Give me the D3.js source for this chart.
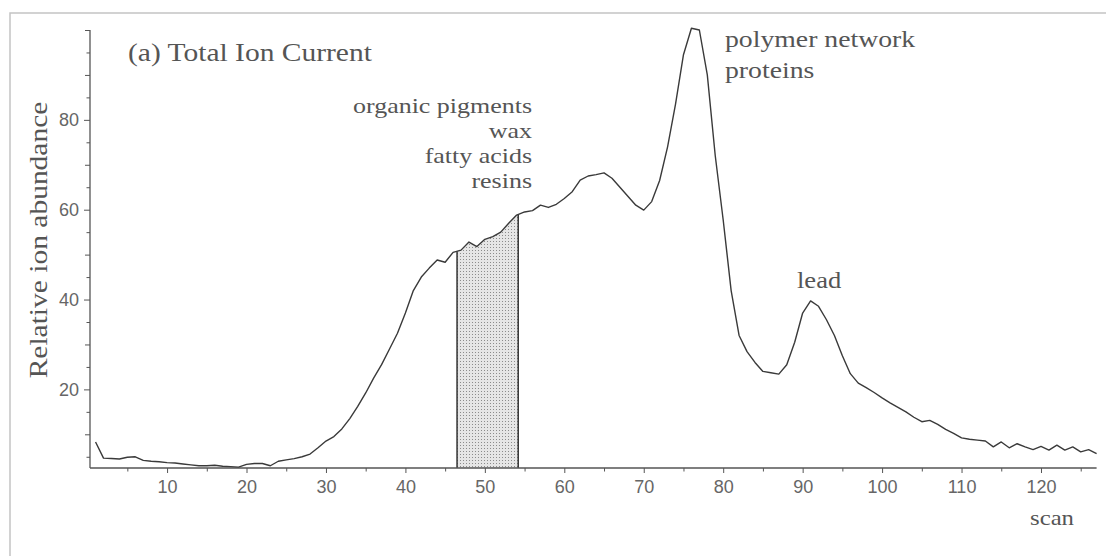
<!DOCTYPE html>
<meta charset="utf-8">
<script src="https://cdnjs.cloudflare.com/ajax/libs/d3/7.8.5/d3.min.js"></script>
<style>
 body { margin: 0; background: #fff; }
 .serif { font-family: "Liberation Serif", "Times New Roman", serif; fill: #555; }
 .tick text { font-family: "Liberation Sans", Arial, sans-serif; font-size: 18px; fill: #666; }
</style>
<div id="chart"></div>
<script>
 // total ion current, one value per scan starting at scan 1
 var firstScan = 1;
 var abundance = [
     8.3, 4.7, 4.6, 4.5, 4.9, 5.0, 4.2, 4.0, 3.9, 3.7,
     3.6, 3.4, 3.2, 3.0, 3.0, 3.1, 2.9, 2.8, 2.7, 3.3,
     3.5, 3.5, 3.0, 4.0, 4.3, 4.6, 5.0, 5.6, 7.0, 8.5,
     9.5, 11.2, 13.5, 16.2, 19.2, 22.5, 25.5, 29, 32.5, 37,
     42, 45, 47, 48.8, 48.3, 50.5, 51, 52.8, 51.8, 53.4,
     54, 55, 57, 58.8, 59.5, 59.8, 61, 60.5, 61.2, 62.5,
     64, 66.6, 67.5, 67.8, 68.2, 67, 65, 63, 61, 59.9,
     61.8, 66.5, 74, 83.5, 94.5, 100.4, 100, 90, 72, 57.7,
     42, 32, 28.4, 26, 24, 23.7, 23.4, 25.5, 30.5, 37,
     39.7, 38.5, 35.5, 32, 27.5, 23.5, 21.4, 20.4, 19.3, 18.1,
     17, 16, 15, 13.8, 12.8, 13.1, 12.2, 11.1, 10.2, 9.2,
     8.9, 8.7, 8.5, 7.2, 8.3, 7.0, 7.9, 7.2, 6.6, 7.3,
     6.5, 7.6, 6.5, 7.2, 6.1, 6.6, 5.7
 ];
 var shadedRange = [46.5, 54.2];
 var xTickLabels = [10, 20, 30, 40, 50, 60, 70, 80, 90, 100, 110, 120];
 var yTickLabels = [20, 40, 60, 80];
 var title = "(a) Total Ion Current";
 var leftNotes = ["organic pigments", "wax", "fatty acids", "resins"];
 var peakNotes = ["polymer network", "proteins"];

 var width = 1106, height = 556;
 var stretch = 1.18;   // the serif face of the original is wider than Times

 var svg = d3.select("#chart").append("svg")
             .attr("width", width)
             .attr("height", height);

 var defs = svg.append("defs");
 var pat = defs.append("pattern")
               .attr("id", "dots")
               .attr("width", 3).attr("height", 3)
               .attr("patternUnits", "userSpaceOnUse");
 pat.append("rect").attr("width", 3).attr("height", 3).attr("fill", "#e6e6e6");
 pat.append("rect").attr("x", 1).attr("y", 1).attr("width", 1).attr("height", 1).attr("fill", "#8c8c8c");

 // frame lines top and left
 svg.append("path")
    .attr("d", "M10,556V13H1106")
    .attr("fill", "none")
    .attr("stroke", "#c4c4c4")
    .attr("stroke-width", 1.5);

 var x = d3.scaleLinear().domain([0.3, 127]).range([90, 1096.6]);
 var y = d3.scaleLinear().domain([2.5, 100]).range([468, 30]);

 var data = abundance.map((v, i) => ({scan: firstScan + i, value: v}));

 function valueAt(s) {
     var i = Math.floor(s) - firstScan;
     var t = s - Math.floor(s);
     return abundance[i] + (abundance[i + 1] - abundance[i]) * t;
 }

 // shaded window
 defs.append("clipPath").attr("id", "win")
     .append("rect")
     .attr("x", x(shadedRange[0]))
     .attr("y", 0)
     .attr("width", x(shadedRange[1]) - x(shadedRange[0]))
     .attr("height", height);

 var area = d3.area()
              .x(d => x(d.scan))
              .y0(y(2.5))
              .y1(d => y(d.value));

 svg.append("path")
    .datum(data)
    .attr("d", area)
    .attr("fill", "url(#dots)")
    .attr("clip-path", "url(#win)");

 shadedRange.forEach(function(s) {
     svg.append("line")
        .attr("x1", x(s)).attr("x2", x(s))
        .attr("y1", y(2.5)).attr("y2", y(valueAt(s)))
        .attr("stroke", "#333")
        .attr("stroke-width", 1.5);
 });

 // axes
 var xAxis = svg.append("g")
                .attr("transform", `translate(0,${y(2.5)})`)
                .call(d3.axisBottom(x).tickValues(d3.range(5, 127, 5)).tickSize(4).tickPadding(8)
                        .tickFormat(d => xTickLabels.includes(d) ? d : ""));
 xAxis.select(".domain").attr("stroke", "#555").attr("stroke-width", 1.3).attr("d", `M90,0H${x(127)}`);
 xAxis.selectAll(".tick line").attr("stroke", "#555")
      .attr("y2", d => d % 10 === 0 ? 5 : 3.5);

 var yAxis = svg.append("g")
                .attr("transform", `translate(${x(0.3)},0)`)
                .call(d3.axisLeft(y).tickValues(d3.range(5, 101, 5)).tickSize(4).tickPadding(7)
                        .tickFormat(d => yTickLabels.includes(d) ? d : ""));
 yAxis.select(".domain").attr("stroke", "#555").attr("stroke-width", 1.3).attr("d", `M0,${y(2.5)}V${y(100)}`);
 yAxis.selectAll(".tick line").attr("stroke", "#555")
      .attr("x2", d => yTickLabels.includes(d) ? -6 : d % 10 === 0 ? -5 : -3.5);

 // the curve
 var line = d3.line().x(d => x(d.scan)).y(d => y(d.value));
 svg.append("path")
    .datum(data)
    .attr("d", line)
    .attr("fill", "none")
    .attr("stroke", "#3a3a3a")
    .attr("stroke-width", 1.4)
    .attr("stroke-linejoin", "round");

 function note(txt, px, py, size, anchor, rot) {
     svg.append("text")
        .attr("class", "serif")
        .attr("transform", `translate(${px},${py}) rotate(${rot || 0}) scale(${stretch},1)`)
        .attr("font-size", size)
        .attr("text-anchor", anchor || "start")
        .text(txt);
 }

 note(title, 128, 61, 25);
 leftNotes.forEach((t, i) => note(t, 532, 113 + i * 25, 22, "end"));
 peakNotes.forEach((t, i) => note(t, 725, 47 + i * 31, 23.5));
 note("lead", 797, 288, 22.5);
 note("scan", 1030, 525, 21);
 note("Relative ion abundance", 47, 240, 25, "middle", -90);
</script>
